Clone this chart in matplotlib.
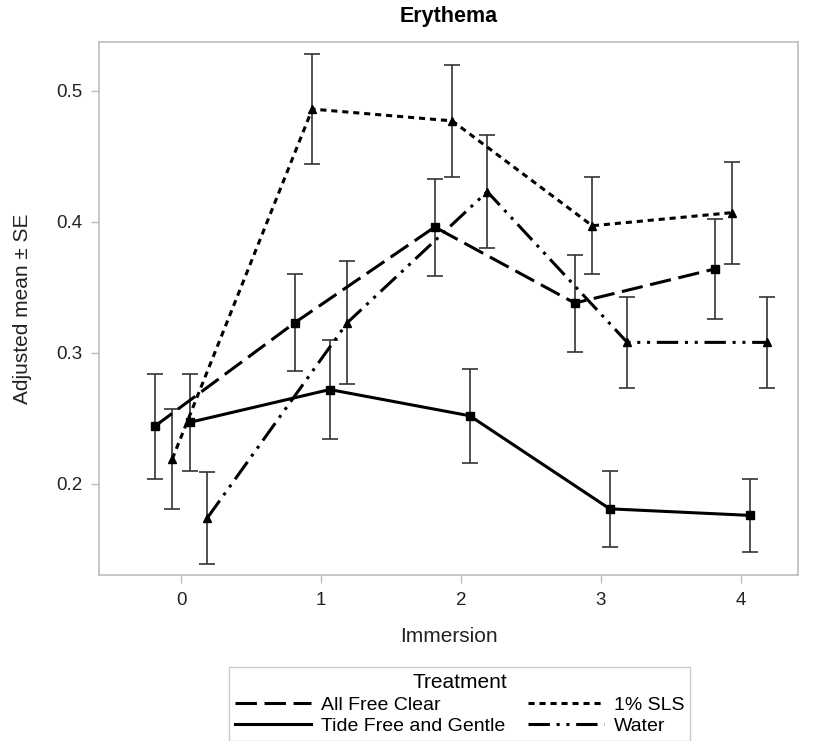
import matplotlib
matplotlib.use('Agg')
import matplotlib.pyplot as plt
import numpy as np

plt.rcParams['font.family'] = ['Liberation Sans', 'DejaVu Sans']

# Data
immersion = [0, 1, 2, 3, 4]
treatments = ['All Free Clear', 'Tide Free and Gentle', '1% SLS', 'Water']

afc_mean = [0.244, 0.323, 0.396, 0.338, 0.364]
afc_se = [0.040, 0.037, 0.037, 0.037, 0.038]
tide_mean = [0.247, 0.272, 0.252, 0.181, 0.176]
tide_se = [0.037, 0.038, 0.036, 0.029, 0.028]
sls_mean = [0.219, 0.486, 0.477, 0.397, 0.407]
sls_se = [0.038, 0.042, 0.043, 0.037, 0.039]
water_mean = [0.174, 0.323, 0.423, 0.308, 0.308]
water_se = [0.035, 0.047, 0.043, 0.035, 0.035]

# x offsets within each immersion cluster
offsets = [-0.1875, 0.0625, -0.0625, 0.1875]

series = [
    (afc_mean, afc_se, 's', (0, (7, 2.5))),
    (tide_mean, tide_se, 's', '-'),
    (sls_mean, sls_se, '^', (0, (2, 1.6))),
    (water_mean, water_se, '^', (0, (7, 2.2, 1, 2.2, 1, 2.2))),
]

fig = plt.figure(figsize=(8.14, 7.41), dpi=100)
ax = fig.add_axes([0.1216, 0.224, 0.8587, 0.7197])

handles = []
for (m, se, mk, ls), off, name in zip(series, offsets, treatments):
    xs = np.array(immersion) + off
    ax.errorbar(xs, m, yerr=se, fmt='none', ecolor='#333333', elinewidth=1.2,
                capsize=5.5, capthick=1.2, zorder=2)
    ax.plot(xs, m, color='black', linestyle=ls, linewidth=2.2, zorder=3)
    ax.plot(xs, m, color='black', linestyle='none', marker=mk, markersize=5.5, zorder=4)
    h, = ax.plot([], [], color='black', linestyle=ls, linewidth=2.2, label=name)
    handles.append(h)

ax.set_xlim(-0.586, 4.407)
ax.set_ylim(0.1305, 0.5374)
ax.set_xticks(immersion)
ax.set_yticks([0.2, 0.3, 0.4, 0.5])
ax.set_yticklabels(['0.2', '0.3', '0.4', '0.5'])

for s in ax.spines.values():
    s.set_color('#bdbdbd')
    s.set_linewidth(1.2)
ax.tick_params(direction='out', length=6, width=1.0, color='#bdbdbd',
               labelsize=13.5, labelcolor='#222222', pad=6)

ax.set_xlabel('Immersion', fontsize=15, color='#222222', labelpad=13)
ax.set_ylabel('Adjusted mean \u00b1 SE', fontsize=15, color='#222222', labelpad=17)
ax.set_title('Erythema', fontsize=15.5, fontweight='bold', pad=14)

leg = fig.legend(handles=handles, loc='upper center', bbox_to_anchor=(0.565, 0.1125),
                 ncol=2, title='Treatment', fontsize=14, title_fontsize=15,
                 frameon=True, fancybox=False, edgecolor='#bdbdbd',
                 handlelength=3.9, columnspacing=1.2, labelspacing=0.2,
                 borderpad=0.3, handletextpad=0.5)
leg.get_frame().set_linewidth(1.0)

fig.savefig('out.png', dpi=100)
